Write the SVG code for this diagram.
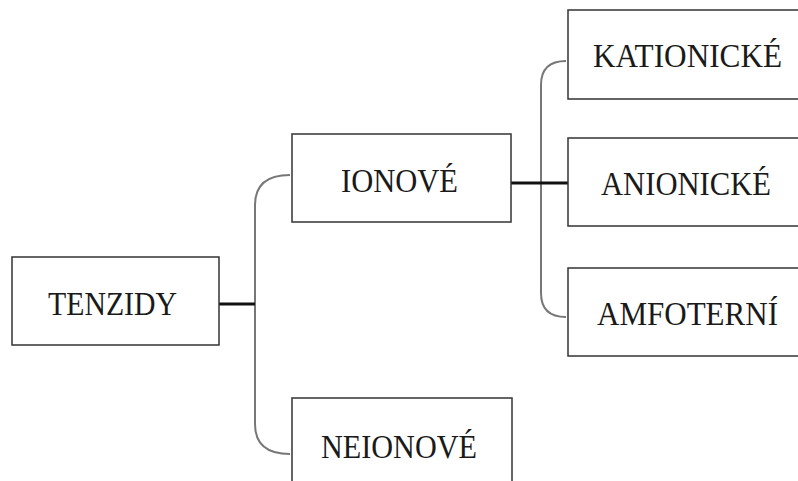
<svg xmlns="http://www.w3.org/2000/svg" width="798" height="481" viewBox="0 0 798 481">
<style>
.box{fill:#fff;stroke:#333;stroke-width:1.5}
.t{font-family:"Liberation Serif","Times New Roman",serif;font-size:33px;fill:#1a1a1a;text-anchor:middle}
.br{fill:none;stroke:#777;stroke-width:2}
.ln{fill:none;stroke:#111;stroke-width:3}
</style>
<rect width="798" height="481" fill="#fff"/>
<g id="connectors">
<path class="br" d="M290,175 Q255,175 255,205 L255,424 Q255,454 290,454"/>
<path class="br" d="M566,61 Q541,61 541,85 L541,293 Q541,317 566,317"/>
<line class="ln" x1="219" y1="304" x2="255" y2="304"/>
<line class="ln" x1="511" y1="183" x2="568" y2="183"/>
</g>
<g id="tenzidy"><rect class="box" x="12" y="257" width="207" height="88"/><text class="t" x="112.5" y="315" textLength="129" lengthAdjust="spacingAndGlyphs">TENZIDY</text></g>
<g id="ionove"><rect class="box" x="292" y="134" width="219" height="88"/><text class="t" x="399.5" y="192" textLength="117" lengthAdjust="spacingAndGlyphs">IONOVÉ</text></g>
<g id="neionove"><rect class="box" x="292" y="398" width="220" height="100"/><text class="t" x="399" y="458" textLength="156" lengthAdjust="spacingAndGlyphs">NEIONOVÉ</text></g>
<g id="kationicke"><rect class="box" x="568" y="10" width="240" height="89"/><text class="t" x="687.5" y="67" textLength="189" lengthAdjust="spacingAndGlyphs">KATIONICKÉ</text></g>
<g id="anionicke"><rect class="box" x="568" y="138" width="240" height="88"/><text class="t" x="686" y="195" textLength="170" lengthAdjust="spacingAndGlyphs">ANIONICKÉ</text></g>
<g id="amfoterni"><rect class="box" x="568" y="268" width="240" height="88"/><text class="t" x="687.5" y="325" textLength="181" lengthAdjust="spacingAndGlyphs">AMFOTERNÍ</text></g>
</svg>
